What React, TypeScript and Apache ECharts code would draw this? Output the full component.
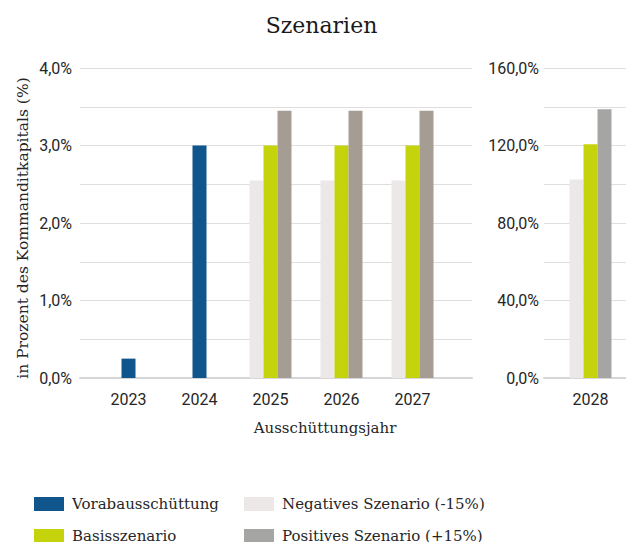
import React, { useEffect, useRef } from "react";
import * as echarts from "echarts";

const title = "Szenarien";
const yAxisName = "in Prozent des Kommanditkapitals (%)";
const xAxisName = "Ausschüttungsjahr";

const categoriesLeft = ["2023", "2024", "2025", "2026", "2027"];
const categoriesRight = ["2028"];

const seriesNames = [
  "Vorabausschüttung",
  "Negatives Szenario (-15%)",
  "Basisszenario",
  "Positives Szenario (+15%)",
];

const vorabLeft = [0.25, 3.0, 0, 0, 0];
const negLeft = [null, null, 2.55, 2.55, 2.55];
const basisLeft = [null, null, 3.0, 3.0, 3.0];
const posLeft = [null, null, 3.45, 3.45, 3.45];

const negRight = [102.5];
const basisRight = [120.6];
const posRight = [138.7];

const leftAxis = { min: 0, max: 4, interval: 0.5, labelStep: 1 };
const rightAxis = { min: 0, max: 160, interval: 20, labelStep: 40 };

const C_VORAB = "#10558b";
const C_NEG = "#ece8e7";
const C_BASIS = "#c5d30c";
const C_POS_L = "#a59c93";
const C_POS_R = "#a5a5a3";

const SERIF = "DejaVu Serif";
const SANS = "Roboto";
const TXT = "#262626";
const GRID_C = "#dedede";

const fmt = (step: number) => (v: number) => {
  const r = v / step;
  if (Math.abs(r - Math.round(r)) > 1e-6) return "";
  return v.toFixed(1).replace(".", ",") + "%";
};

export default function App() {
  const ref = useRef<HTMLDivElement>(null);
  useEffect(() => {
    document.body.style.margin = "0";
    if (!ref.current) return;
    const chart = echarts.init(ref.current, undefined, { renderer: "svg" });
    const top = 68;
    const bottom = 542 - 378;
    const bw = 14;
    const legendCommon = {
      orient: "vertical", itemWidth: 30, itemHeight: 14, itemGap: 12,
      top: 494, height: 120, width: 300, padding: 0,
      selectedMode: false, icon: "rect",
      textStyle: { fontFamily: SERIF, fontSize: 15, color: TXT, lineHeight: 20, padding: [0, 0, 0, 3] },
    };
    const option: any = {
      animation: false,
      backgroundColor: "#ffffff",
      grid: [
        { left: 80, right: 626 - 472, top, bottom },
        { left: 93, width: 355, top, bottom },
        { left: 544, right: 0, top, bottom },
        { left: 555, width: 71, top, bottom },
      ],
      xAxis: [
        {
          gridIndex: 0, type: "value", min: 0, max: 1,
          axisLabel: { show: false }, axisTick: { show: false }, splitLine: { show: false },
          axisLine: { show: true, lineStyle: { color: "#d6d6d6", width: 2 } },
        },
        {
          gridIndex: 1, type: "category", data: categoriesLeft,
          axisLine: { show: false }, axisTick: { show: false },
          axisLabel: { fontFamily: SANS, fontSize: 16, color: TXT, margin: 13 },
        },
        {
          gridIndex: 2, type: "value", min: 0, max: 1,
          axisLabel: { show: false }, axisTick: { show: false }, splitLine: { show: false },
          axisLine: { show: true, lineStyle: { color: "#d6d6d6", width: 2 } },
        },
        {
          gridIndex: 3, type: "category", data: categoriesRight,
          axisLine: { show: false }, axisTick: { show: false },
          axisLabel: { fontFamily: SANS, fontSize: 16, color: TXT, margin: 13 },
        },
      ],
      yAxis: [
        {
          gridIndex: 0, type: "value", min: leftAxis.min, max: leftAxis.max, interval: leftAxis.interval,
          axisLine: { show: false }, axisTick: { show: false },
          axisLabel: { fontFamily: SANS, fontSize: 16, color: TXT, margin: 8, formatter: fmt(leftAxis.labelStep) },
          splitLine: { show: true, lineStyle: { color: GRID_C, width: 1 } },
        },
        { gridIndex: 1, type: "value", min: leftAxis.min, max: leftAxis.max, show: false },
        {
          gridIndex: 2, type: "value", min: rightAxis.min, max: rightAxis.max, interval: rightAxis.interval,
          axisLine: { show: false }, axisTick: { show: false },
          axisLabel: { fontFamily: SANS, fontSize: 16, color: TXT, margin: 5, formatter: fmt(rightAxis.labelStep) },
          splitLine: { show: true, lineStyle: { color: GRID_C, width: 1 } },
        },
        { gridIndex: 3, type: "value", min: rightAxis.min, max: rightAxis.max, show: false },
      ],
      legend: [
        {
          ...legendCommon, left: 34,
          data: [
            { name: seriesNames[0], itemStyle: { color: C_VORAB } },
            { name: seriesNames[2], itemStyle: { color: C_BASIS } },
          ],
        },
        {
          ...legendCommon, left: 244,
          data: [
            { name: seriesNames[1], itemStyle: { color: C_NEG } },
            { name: seriesNames[3], itemStyle: { color: C_POS_R } },
          ],
        },
      ],
      graphic: [
        {
          type: "text", x: 321.5, y: 25,
          style: { text: title, fontFamily: SERIF, fontSize: 22, fill: "#1a1a1a", textAlign: "center", textVerticalAlign: "middle" },
        },
        {
          type: "text", x: 325, y: 428,
          style: { text: xAxisName, fontFamily: SERIF, fontSize: 15, fill: TXT, textAlign: "center", textVerticalAlign: "middle" },
        },
        {
          type: "text", x: 23, y: 228, rotation: Math.PI / 2,
          style: { text: yAxisName, fontFamily: SERIF, fontSize: 15.5, fill: TXT, textAlign: "center", textVerticalAlign: "middle" },
        },
      ],
      series: [
        { name: seriesNames[1], type: "bar", xAxisIndex: 1, yAxisIndex: 1, data: negLeft, barWidth: bw, barGap: "0%", itemStyle: { color: C_NEG } },
        { name: seriesNames[0], type: "bar", xAxisIndex: 1, yAxisIndex: 1, stack: "mid", data: vorabLeft, barWidth: bw, barGap: "0%", itemStyle: { color: C_VORAB } },
        { name: seriesNames[2], type: "bar", xAxisIndex: 1, yAxisIndex: 1, stack: "mid", data: basisLeft, barWidth: bw, barGap: "0%", itemStyle: { color: C_BASIS } },
        { name: seriesNames[3], type: "bar", xAxisIndex: 1, yAxisIndex: 1, data: posLeft, barWidth: bw, barGap: "0%", itemStyle: { color: C_POS_L } },
        { name: seriesNames[1], type: "bar", xAxisIndex: 3, yAxisIndex: 3, data: negRight, barWidth: bw, barGap: "0%", itemStyle: { color: C_NEG } },
        { name: seriesNames[2], type: "bar", xAxisIndex: 3, yAxisIndex: 3, data: basisRight, barWidth: bw, barGap: "0%", itemStyle: { color: C_BASIS } },
        { name: seriesNames[3], type: "bar", xAxisIndex: 3, yAxisIndex: 3, data: posRight, barWidth: bw, barGap: "0%", itemStyle: { color: C_POS_R } },
      ],
    };
    chart.setOption(option);
    return () => chart.dispose();
  }, []);
  return <div ref={ref} style={{ width: 626, height: 542 }} />;
}
